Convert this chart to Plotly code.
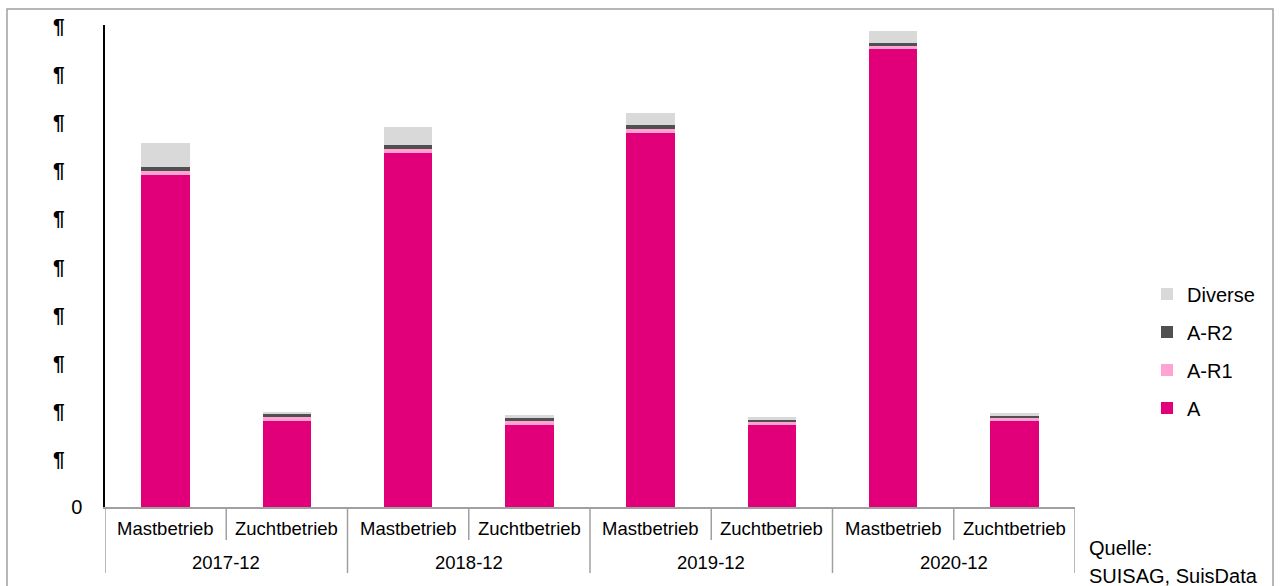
import plotly.graph_objects as go

years = ["2017-12", "2018-12", "2019-12", "2020-12"]
types = ["Mastbetrieb", "Zuchtbetrieb"]
categories = [(y, t) for y in years for t in types]

val_A = [6.89, 1.78, 7.34, 1.70, 7.76, 1.70, 9.50, 1.78]
val_AR1 = [0.083, 0.083, 0.083, 0.083, 0.083, 0.083, 0.083, 0.083]
val_AR2 = [0.083, 0.083, 0.083, 0.083, 0.083, 0.041, 0.041, 0.041]
val_Div = [0.50, 0.02, 0.373, 0.041, 0.25, 0.041, 0.25, 0.041]

series = [
    ("A", val_A, "#E2007A"),
    ("A-R1", val_AR1, "#FFA3D3"),
    ("A-R2", val_AR2, "#505050"),
    ("Diverse", val_Div, "#D9D9D9"),
]

y_tick_vals = list(range(0, 11))
y_tick_text = ["0"] + ["¶"] * 10

FONT = "Liberation Sans, Arial, sans-serif"

xs = list(range(len(categories)))
fig = go.Figure()
for idx, (name, vals, col) in enumerate(series):
    fig.add_trace(go.Bar(
        x=xs, y=vals, name=name, marker=dict(color=col, line=dict(width=0)),
        width=0.4, legendgroup=name, legendrank=len(series) - idx,
    ))

# plot area in px: x 105..1075, y 25..507
W, H = 1283, 586
L, R, T, B = 105, 1075, 25, 507
pw, ph = R - L, B - T

def px_x(p):
    return (p - L) / pw

def px_y(p):
    return (B - p) / ph

annotations = []
# inner category labels
for i, (yr, t) in enumerate(categories):
    annotations.append(dict(x=i, y=px_y(528), xref="x", yref="paper", text=t,
                            showarrow=False, xanchor="center", yanchor="middle",
                            font=dict(size=18.5, color="black", family=FONT)))
# outer year labels
for j, yr in enumerate(years):
    annotations.append(dict(x=2 * j + 0.5, y=px_y(562), xref="x", yref="paper", text=yr,
                            showarrow=False, xanchor="center", yanchor="middle",
                            font=dict(size=18.5, color="black", family=FONT)))
# y labels (pilcrow)
for v, t in zip(y_tick_vals, y_tick_text):
    if v == 0:
        continue
    annotations.append(dict(x=px_x(59), y=v, xref="paper", yref="y", text="<b>" + t + "</b>",
                            showarrow=False, xanchor="center", yanchor="middle",
                            font=dict(size=21, color="black", family=FONT)))
# source
annotations.append(dict(x=px_x(1087), y=px_y(548), xref="paper", yref="paper", text="Quelle:",
                        showarrow=False, xanchor="left", yanchor="middle",
                        font=dict(size=20, color="black", family=FONT)))
annotations.append(dict(x=px_x(1087), y=px_y(576), xref="paper", yref="paper", text="SUISAG, SuisData",
                        showarrow=False, xanchor="left", yanchor="middle",
                        font=dict(size=20, color="black", family=FONT)))

shapes = []
# outer frame
shapes.append(dict(type="rect", xref="paper", yref="paper",
                   x0=px_x(7), x1=px_x(1273), y0=px_y(600), y1=px_y(9),
                   line=dict(color="#A0A0A0", width=1.5), fillcolor="rgba(0,0,0,0)", layer="below"))
# category dividers
for k in range(len(categories) + 1):
    bottom = 573 if k % 2 == 0 else 540
    shapes.append(dict(type="line", xref="x", yref="paper", x0=k - 0.5, x1=k - 0.5,
                       y0=0, y1=px_y(bottom), line=dict(color="#A0A0A0", width=1.5)))

fig.update_layout(
    width=W, height=H,
    margin=dict(l=L, r=W - R, t=T, b=H - B, pad=0),
    paper_bgcolor="white", plot_bgcolor="white",
    barmode="stack", bargap=0.6,
    font=dict(family=FONT, size=18, color="black"),
    xaxis=dict(range=[-0.5, len(categories) - 0.5], showticklabels=False, showgrid=False,
               zeroline=False, showline=True, linecolor="#A0A0A0", linewidth=1.5, ticks=""),
    yaxis=dict(range=[0, 10], tickvals=[0], ticktext=["0"], showgrid=True,
               gridcolor="#C4C4C4", griddash="8px,5px", gridwidth=1.5,
               zeroline=False, showline=True, linecolor="black", linewidth=1.5,
               ticks="", ticklabelstandoff=17,
               tickfont=dict(size=20, color="black", family=FONT)),
    legend=dict(x=px_x(1147), y=px_y(351), xanchor="left", yanchor="middle",
                traceorder="grouped", tracegroupgap=9,
                font=dict(size=20, color="black", family=FONT),
                bgcolor="rgba(0,0,0,0)"),
    annotations=annotations,
    shapes=shapes,
)

fig.write_html("out.html", config={"displayModeBar": False},
               post_script="document.body.style.margin='0';document.body.style.overflow='hidden';")
